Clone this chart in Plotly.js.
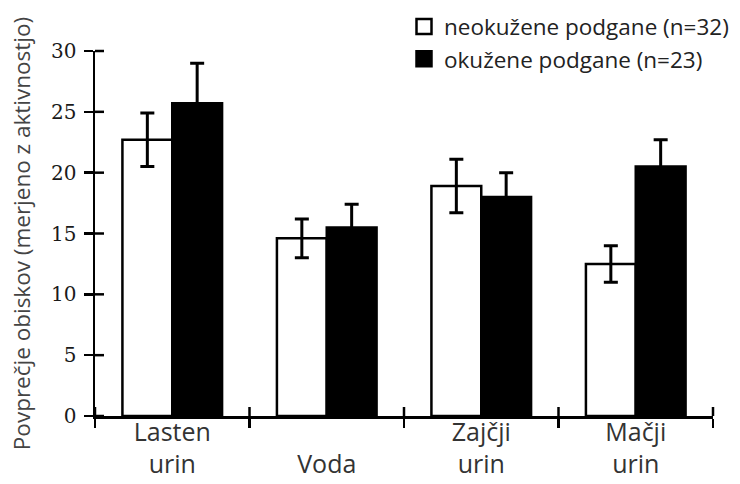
<!DOCTYPE html>
<html>
<head>
<meta charset="utf-8">
<script src="https://cdn.plot.ly/plotly-3.0.1.min.js"></script>
<style>html,body{margin:0;padding:0;background:#fff;}#chart{width:740px;height:484px;}</style>
</head>
<body>
<div id="chart"></div>
<script>
// Data
var categories = ['Lasten urin', 'Voda', 'Zajčji urin', 'Mačji urin'];
var tickLabels = ['Lasten<br>urin', ' <br>Voda', 'Zajčji<br>urin', 'Mačji<br>urin'];
var uninfectedName = 'neokužene podgane (n=32)';
var infectedName = 'okužene podgane (n=23)';
var uninfectedMean = [22.7, 14.6, 18.9, 12.5];
var uninfectedErr = [2.2, 1.6, 2.2, 1.5];
var infectedMean = [25.7, 15.5, 18.0, 20.5];
var infectedErr = [3.3, 1.9, 2.0, 2.2];
var yTicks = [0, 5, 10, 15, 20, 25, 30];

var W = 740, H = 484;
var M = {l: 95, r: 27, t: 51, b: 68};
var plotW = W - M.l - M.r, plotH = H - M.t - M.b;
var TICKLEN = 9, TICKW = 2.5;
var yRange = [0, 30];
var xRange = [-0.5, categories.length - 0.5];

var boundaries = categories.map(function (_, i) { return i - 0.5; }).concat([categories.length - 0.5]);

var traces = [
  {
    type: 'bar', name: uninfectedName, x: categories, y: uninfectedMean,
    marker: {color: '#ffffff', line: {color: '#000000', width: 2.5}},
    error_y: {type: 'data', array: uninfectedErr, visible: true, color: '#000000', thickness: 3, width: 7},
    showlegend: false, hoverinfo: 'skip'
  },
  {
    type: 'bar', name: infectedName, x: categories, y: infectedMean,
    marker: {color: '#000000', line: {color: '#000000', width: 2.5}},
    error_y: {type: 'data', array: infectedErr, visible: true, color: '#000000', thickness: 3, width: 7},
    showlegend: false, hoverinfo: 'skip'
  },
  {
    type: 'scatter', mode: 'markers', name: uninfectedName, x: [null], y: [null],
    marker: {symbol: 'square', size: 15, color: '#ffffff', line: {color: '#000000', width: 2.5}}
  },
  {
    type: 'scatter', mode: 'markers', name: infectedName, x: [null], y: [null],
    marker: {symbol: 'square', size: 15, color: '#000000', line: {color: '#000000', width: 2.5}}
  }
];

// inner halves of the crossing axis ticks (paper coordinates, derived from the tick arrays)
var shapes = [];
yTicks.forEach(function (v) {
  var p = (v - yRange[0]) / (yRange[1] - yRange[0]);
  shapes.push({type: 'line', xref: 'paper', yref: 'paper', x0: 0, x1: TICKLEN / plotW, y0: p, y1: p,
    line: {color: '#000000', width: TICKW}, layer: 'above'});
});
boundaries.forEach(function (b) {
  var p = (b - xRange[0]) / (xRange[1] - xRange[0]);
  shapes.push({type: 'line', xref: 'paper', yref: 'paper', x0: p, x1: p, y0: 0, y1: TICKLEN / plotH,
    line: {color: '#000000', width: TICKW}, layer: 'above'});
});

var layout = {
  width: W, height: H,
  margin: {l: M.l, r: M.r, t: M.t, b: M.b, autoexpand: false},
  paper_bgcolor: '#ffffff', plot_bgcolor: '#ffffff',
  barmode: 'group', bargap: 0.355, bargroupgap: 0,
  font: {family: 'Open Sans, sans-serif', color: '#333333'},
  showlegend: true,
  legend: {
    x: 0.5, xanchor: 'left', y: 1.125, yanchor: 'top',
    font: {family: 'Open Sans, sans-serif', size: 22.5, color: '#222222'},
    bgcolor: 'rgba(0,0,0,0)', tracegroupgap: 0, itemsizing: 'trace'
  },
  shapes: shapes,
  xaxis: {
    type: 'category', range: xRange, tickson: 'boundaries',
    tickvals: categories, ticktext: tickLabels,
    ticks: 'outside', ticklen: TICKLEN, tickwidth: TICKW, tickcolor: '#000000',
    showline: true, linecolor: '#000000', linewidth: 2.5,
    showgrid: false, zeroline: false, fixedrange: true,
    ticklabelstandoff: -8,
    tickfont: {family: 'Open Sans, sans-serif', size: 25, color: '#333333'}
  },
  yaxis: {
    range: yRange, tickmode: 'array', tickvals: yTicks,
    ticks: 'outside', ticklen: TICKLEN, tickwidth: TICKW, tickcolor: '#000000',
    showline: true, linecolor: '#000000', linewidth: 2.5,
    showgrid: false, zeroline: false, fixedrange: true,
    ticklabelstandoff: 3,
    tickfont: {family: 'DejaVu Serif, serif', size: 20, color: '#1a1a1a'},
    title: {text: 'Povprečje obiskov (merjeno z aktivnostjo)', font: {family: 'Open Sans, sans-serif', size: 22.5, color: '#444444'}, standoff: 14}
  }
};

Plotly.newPlot('chart', traces, layout, {displayModeBar: false, staticPlot: true});
</script>
</body>
</html>
